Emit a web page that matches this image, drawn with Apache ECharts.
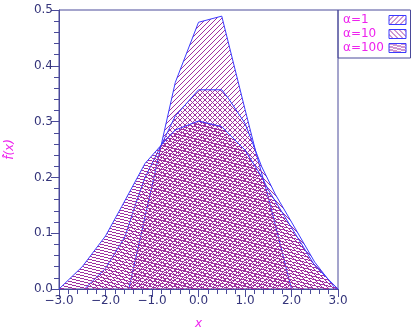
<!DOCTYPE html>
<html>
<head>
<meta charset="utf-8">
<script src="https://cdn.jsdelivr.net/npm/echarts@6/dist/echarts.min.js"></script>
<style>
html,body{margin:0;padding:0;background:#fff;}
#chart{width:418px;height:328px;}
</style>
</head>
<body>
<div id="chart"></div>
<script>
// ---- data ----
var seriesNames = ['\u03b1=1', '\u03b1=10', '\u03b1=100'];
var xAlpha1 = [-1.5, -1.0, -0.5, 0.0, 0.5, 1.0, 1.25, 1.5, 2.0];
var yAlpha1 = [0.0, 0.185, 0.37, 0.478, 0.489, 0.322, 0.24, 0.165, 0.0];
var xAlpha10 = [-2.45, -2.0, -1.58, -1.37, -1.15, -0.8, -0.5, 0.0, 0.5, 0.64, 1.0, 1.36, 1.65, 2.0, 2.5, 2.95];
var yAlpha10 = [0.0, 0.037, 0.094, 0.148, 0.2, 0.258, 0.31, 0.357, 0.357, 0.342, 0.297, 0.219, 0.17, 0.12, 0.048, 0.0];
var xAlpha100 = [-3.0, -2.5, -2.0, -1.65, -1.15, -0.8, -0.5, 0.0, 0.5, 1.0, 1.36, 1.5, 2.0, 2.5, 3.0];
var yAlpha100 = [0.0, 0.04, 0.095, 0.148, 0.225, 0.258, 0.285, 0.301, 0.291, 0.249, 0.201, 0.178, 0.11, 0.042, 0.0];
var xTicks = [-3, -2, -1, 0, 1, 2, 3];
var yTicks = [0.0, 0.1, 0.2, 0.3, 0.4, 0.5];

function pairs(xs, ys) { return xs.map(function (x, i) { return [x, ys[i]]; }); }

// pixel hatch tile: fn(x) gives the row of the hatch pixel in column x
function hatch(w, h, fn, color) {
  var c = document.createElement('canvas');
  c.width = w; c.height = h;
  var g = c.getContext('2d');
  g.fillStyle = color;
  for (var x = 0; x < w; x++) {
    g.fillRect(x, fn(x), 1, 1);
  }
  return { image: c, repeat: 'repeat' };
}
var hatchColor = '#a030a0';
var pat1 = hatch(5, 5, function (x) { return 4 - x; }, hatchColor);           // "///"
var pat10 = hatch(5, 5, function (x) { return x; }, hatchColor);              // "\\\"
var pat100 = hatch(12, 3, function (x) { return Math.floor(x / 4); }, hatchColor); // shallow
var patterns = [pat1, pat10, pat100];
var datas = [pairs(xAlpha1, yAlpha1), pairs(xAlpha10, yAlpha10), pairs(xAlpha100, yAlpha100)];

var axisCol = '#4a4a9a';
var labelCol = '#34347a';
var magenta = '#ee22ee';
var lineBlue = '#3a3aff';

function fmt(v) {
  var s = Math.abs(v).toFixed(1);
  return (v < -1e-9 ? '\u2212' : '') + s;
}

var chart = echarts.init(document.getElementById('chart'), null, { renderer: 'canvas' });
var series = seriesNames.map(function (n, i) {
  return {
    name: n,
    type: 'line',
    data: datas[i],
    showSymbol: false,
    symbol: 'none',
    animation: false,
    z: 2 + i,
    lineStyle: { color: lineBlue, width: 1 },
    itemStyle: { color: patterns[i], borderColor: lineBlue },
    areaStyle: { color: patterns[i], opacity: 1 }
  };
});

chart.setOption({
  animation: false,
  grid: { left: 59, right: 80, top: 10, bottom: 39, outerBoundsMode: 'none', containLabel: false, show: true, borderColor: axisCol, borderWidth: 1, backgroundColor: 'transparent' },
  legend: {
    orient: 'vertical',
    left: 338, top: 10,
    align: 'right',
    itemWidth: 17, itemHeight: 9, itemGap: 2,
    padding: [4, 4, 4, 5],
    borderColor: axisCol, borderWidth: 1,
    formatter: function (name) { return '{t|' + name + '}'; },
    textStyle: {
      color: magenta, fontSize: 12, fontFamily: 'DejaVu Sans',
      rich: { t: { color: magenta, fontSize: 12, fontFamily: 'DejaVu Sans', width: 41, lineHeight: 13, align: 'left' } }
    },
    data: seriesNames.map(function (n, i) {
      return { name: n, icon: 'rect', itemStyle: { color: patterns[i], borderColor: lineBlue, borderWidth: 1 } };
    })
  },
  xAxis: {
    type: 'value', min: xTicks[0], max: xTicks[xTicks.length - 1], interval: 1,
    name: 'x', nameLocation: 'middle', nameGap: 29,
    nameTextStyle: { color: magenta, fontStyle: 'italic', fontSize: 12, fontFamily: 'DejaVu Sans' },
    axisLine: { onZero: false, lineStyle: { color: axisCol, width: 1 } },
    axisTick: { length: 8, lineStyle: { color: axisCol } },
    minorTick: { show: true, splitNumber: 5, length: 5, lineStyle: { color: axisCol } },
    splitLine: { show: false },
    axisLabel: { color: labelCol, fontSize: 12, fontFamily: 'DejaVu Sans', margin: 6, formatter: fmt }
  },
  yAxis: {
    type: 'value', min: yTicks[0], max: yTicks[yTicks.length - 1], interval: 0.1,
    name: 'f\u0302(x)', nameLocation: 'middle', nameGap: 43, nameRotate: 90,
    nameTextStyle: { color: magenta, fontStyle: 'italic', fontSize: 12, fontFamily: 'DejaVu Sans' },
    axisLine: { show: true, onZero: false, lineStyle: { color: axisCol, width: 1 } },
    axisTick: { show: true, length: 8, lineStyle: { color: axisCol } },
    minorTick: { show: true, splitNumber: 5, length: 5, lineStyle: { color: axisCol } },
    splitLine: { show: false },
    axisLabel: { color: labelCol, fontSize: 12, fontFamily: 'DejaVu Sans', margin: 6, formatter: function (v) { return v.toFixed(1); } }
  },
  series: series
});
</script>
</body>
</html>
